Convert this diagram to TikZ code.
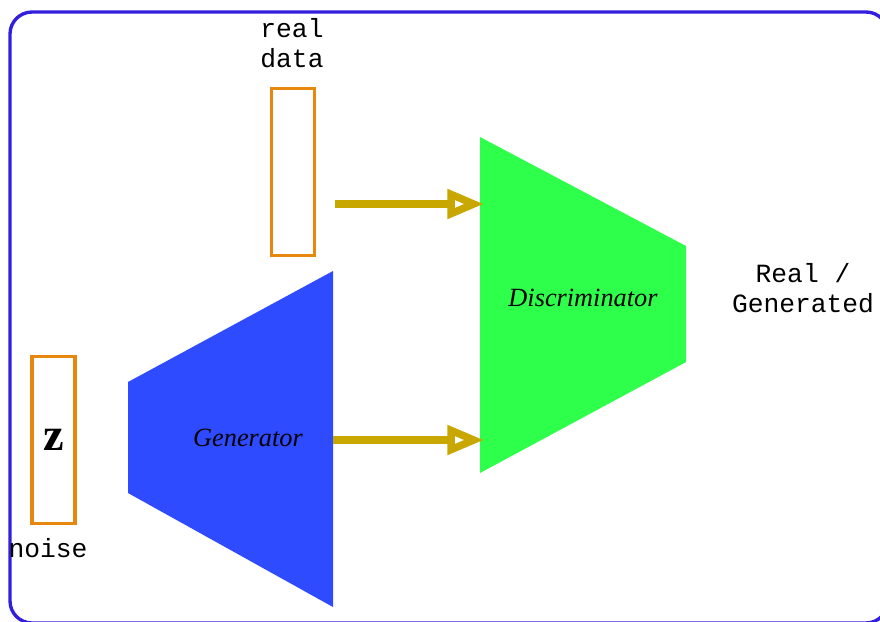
\documentclass[tikz,border=0pt]{standalone}
\usepackage{fontspec}
\setmainfont{Liberation Serif}
\setmonofont{Liberation Mono}
\usepackage{tikz}
\usetikzlibrary{calc}
\usetikzlibrary{arrows.meta}
\definecolor{borde}{RGB}{50,30,220}
\definecolor{naranja}{RGB}{232,135,14}
\definecolor{azulgen}{RGB}{46,75,255}
\definecolor{verdedis}{RGB}{46,255,75}
\definecolor{dorado}{RGB}{200,168,0}
\begin{document}
\begin{tikzpicture}[x=0.025cm, y=-0.025cm,
		caja/.style={draw=naranja, line width=2.4pt, minimum width=1.07cm, minimum height=4.17cm, inner sep=0pt},
		etiqueta/.style={font=\fontsize{18.7}{21.3}\selectfont\ttfamily, align=center, inner sep=0pt},
		bloque/.style={font=\fontsize{18.7}{21.3}\selectfont\itshape, inner sep=0pt},
		flecha/.style={draw=dorado, line width=5.3pt, -{Triangle[open, length=26pt, width=20pt]}}]
			\useasboundingbox (0,0) rectangle (880,621);
			\draw [borde, line width=2.4pt, rounded corners=0.55cm] (10,12) rectangle (888,623); % borde
			\node [caja] (datos) at (293,172) {}; % caja datos reales
			\node [caja, font=\fontsize{33}{36}\selectfont\bfseries] (ruido) at (53.5,440) {z}; % caja ruido
			\node [etiqueta] (lbldatos) at (292,43) {real\\data};
			\node [etiqueta] (lblruido) at (48,548) {noise};
			\fill [azulgen] (128,382) -- (333,271) -- (333,607) -- (128,493) -- cycle; % generador
			\fill [verdedis] (480,137) -- (686,246) -- (686,362) -- (480,473) -- cycle; % discriminador
			\node [bloque] (gen) at (248,438) {Generator};
			\node [bloque] (dis) at (583,298) {Discriminator};
			\node [etiqueta] (salida) at (803,288) {Real /\\Generated}; % salida
			\coordinate (salreal) at (335,204); % inicio flecha de datos
			\coordinate (salgen) at (333,440); % salida del generador
			\coordinate (entreal) at (484,204);
			\coordinate (entgen) at (484,440);
			\draw [flecha] (salreal) -- (entreal);
			\draw [flecha] (salgen) -- (entgen);
		\end{tikzpicture}
\end{document}
